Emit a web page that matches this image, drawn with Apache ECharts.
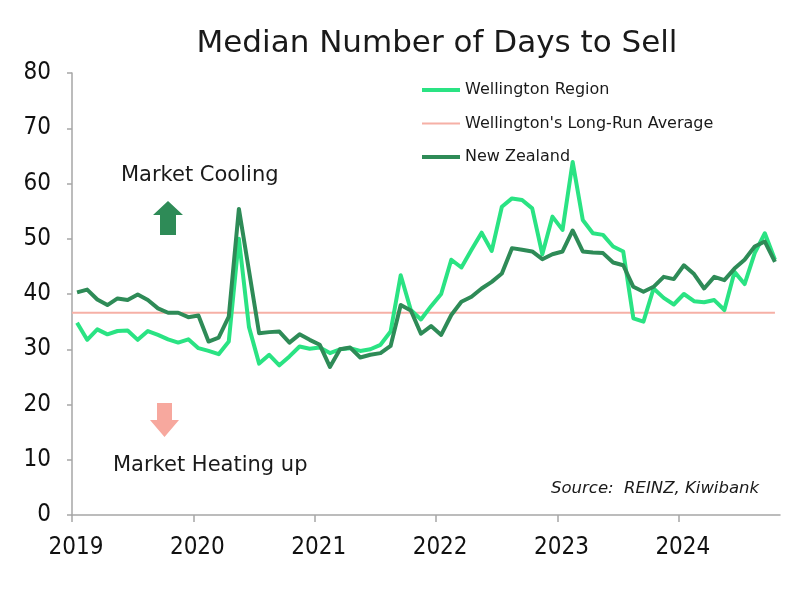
<!DOCTYPE html>
<html>
<head>
<meta charset="utf-8">
<script src="https://cdn.jsdelivr.net/npm/echarts@6/dist/echarts.min.js"></script>
<style>html,body{margin:0;padding:0;background:#fff}#c{width:800px;height:589px}</style>
</head>
<body>
<div id="c"></div>
<script>
// Monthly data, Jan 2019 .. Oct 2024
const startYear = 2019;
const yearLabels = ['2019', '2020', '2021', '2022', '2023', '2024'];
const wellington = [
  34.8, 31.7, 33.6, 32.7, 33.3, 33.4, 31.7, 33.3, 32.6, 31.8, 31.2, 31.8,
  30.2, 29.7, 29.1, 31.4, 50.0, 34.0, 27.4, 29.0, 27.1, 28.7, 30.5, 30.1,
  30.3, 29.3, 30.0, 30.2, 29.7, 30.0, 30.8, 33.2, 43.4, 37.1, 35.4, 37.8,
  40.0, 46.2, 44.8, 48.0, 51.1, 47.8, 55.8, 57.3, 57.0, 55.5, 47.2, 54.0,
  51.6, 63.9, 53.4, 51.0, 50.7, 48.6, 47.7, 35.6, 35.0, 41.0, 39.3, 38.1,
  40.0, 38.7, 38.5, 38.9, 37.1, 44.0, 41.8, 47.4, 51.0, 46.2
];
const newZealand = [
  40.3, 40.8, 39.0, 38.0, 39.2, 38.9, 39.9, 38.9, 37.4, 36.6, 36.6, 35.8,
  36.1, 31.4, 32.1, 35.9, 55.4, 44.2, 32.9, 33.1, 33.2, 31.2, 32.7, 31.7,
  30.8, 26.8, 30.0, 30.3, 28.5, 29.0, 29.3, 30.6, 38.0, 37.0, 32.8, 34.2,
  32.6, 36.2, 38.6, 39.5, 41.0, 42.2, 43.7, 48.3, 48.0, 47.7, 46.3, 47.2,
  47.7, 51.5, 47.7, 47.5, 47.4, 45.7, 45.2, 41.3, 40.4, 41.3, 43.1, 42.7,
  45.2, 43.6, 41.0, 43.1, 42.5, 44.6, 46.2, 48.6, 49.5, 45.8
];
const longRunAverage = 36.6;
const seriesNames = ['Wellington Region', "Wellington's Long-Run Average", 'New Zealand'];

const monthX = i => i + 0.5; // mid-month position, axis unit = month
const wData = wellington.map((v, i) => [monthX(i), v]);
const nzData = newZealand.map((v, i) => [monthX(i), v]);
const avgData = [[0, longRunAverage], [monthX(wellington.length - 1), longRunAverage]];
const yearTicks = yearLabels.map((_, i) => i * 12);

const C_WEL = '#2ae383', C_NZ = '#2e8b57', C_AVG = '#f6b0a6';
const NUM_FONT = '"DejaVu Sans Condensed", "Liberation Sans Narrow", sans-serif';
const TXT_FONT = '"DejaVu Sans", sans-serif';

const chart = echarts.init(document.getElementById('c'), null, {renderer: 'canvas'});
chart.setOption({
  animation: false,
  backgroundColor: '#fff',
  title: {
    text: 'Median Number of Days to Sell',
    left: 432, top: 23, textAlign: 'center',
    textStyle: {fontFamily: TXT_FONT, fontSize: 31, fontWeight: 'normal', color: '#1a1a1a'}
  },
  grid: {left: 72, right: 20, top: 73, bottom: 74},
  legend: {
    orient: 'vertical', left: 417, top: 77, itemWidth: 38, itemHeight: 4, itemGap: 17.5,
    data: [
      {name: seriesNames[0], icon: 'rect'},
      {name: seriesNames[1], icon: 'path://M0,0h38v2h-38z'},
      {name: seriesNames[2], icon: 'rect'}
    ],
    textStyle: {fontFamily: TXT_FONT, fontSize: 16, color: '#1a1a1a'}
  },
  xAxis: {
    type: 'value', min: 0, max: 70,
    axisLine: {show: true, lineStyle: {color: '#a6a6a6', width: 1.5}},
    axisTick: {show: true, customValues: yearTicks, length: 7, lineStyle: {color: '#a6a6a6', width: 1.5}},
    axisLabel: {
      customValues: yearTicks, margin: 21,
      formatter: v => yearLabels[Math.round(v / 12)] || '',
      fontFamily: NUM_FONT, fontSize: 24, color: '#111', padding: [0, 0, 0, 8]
    },
    splitLine: {show: false}
  },
  yAxis: {
    type: 'value', min: 0, max: 80, interval: 10,
    axisLine: {show: true, lineStyle: {color: '#a6a6a6', width: 1.5}},
    axisTick: {show: true, length: 5, lineStyle: {color: '#a6a6a6', width: 1.5}},
    axisLabel: {fontFamily: NUM_FONT, fontSize: 24, color: '#111', margin: 21},
    splitLine: {show: false}
  },
  series: [
    {name: seriesNames[1], type: 'line', data: avgData, symbol: 'none', z: 1,
     lineStyle: {color: C_AVG, width: 2}, itemStyle: {color: C_AVG}},
    {name: seriesNames[0], type: 'line', data: wData, symbol: 'none', z: 2,
     lineStyle: {color: C_WEL, width: 4, join: 'round'}, itemStyle: {color: C_WEL}},
    {name: seriesNames[2], type: 'line', data: nzData, symbol: 'none', z: 3,
     lineStyle: {color: C_NZ, width: 4, join: 'round'}, itemStyle: {color: C_NZ}}
  ],
  graphic: [
    {type: 'text', left: 121, top: 165, style: {text: 'Market Cooling', font: '21px ' + TXT_FONT, fill: '#1a1a1a'}},
    {type: 'text', left: 113, top: 455, style: {text: 'Market Heating up', font: '21px ' + TXT_FONT, fill: '#1a1a1a'}},
    {type: 'text', left: 551, top: 480, style: {text: 'Source:  REINZ, Kiwibank', font: 'italic 16.5px ' + TXT_FONT, fill: '#1a1a1a'}},
    {type: 'polygon', shape: {points: [[168, 201], [183, 215], [176, 215], [176, 235], [160, 235], [160, 215], [153, 215]]}, style: {fill: C_NZ}},
    {type: 'polygon', shape: {points: [[157, 403], [172, 403], [172, 420], [179, 420], [164.5, 437], [150, 420], [157, 420]]}, style: {fill: '#f7a89e'}}
  ]
});
</script>
</body>
</html>
